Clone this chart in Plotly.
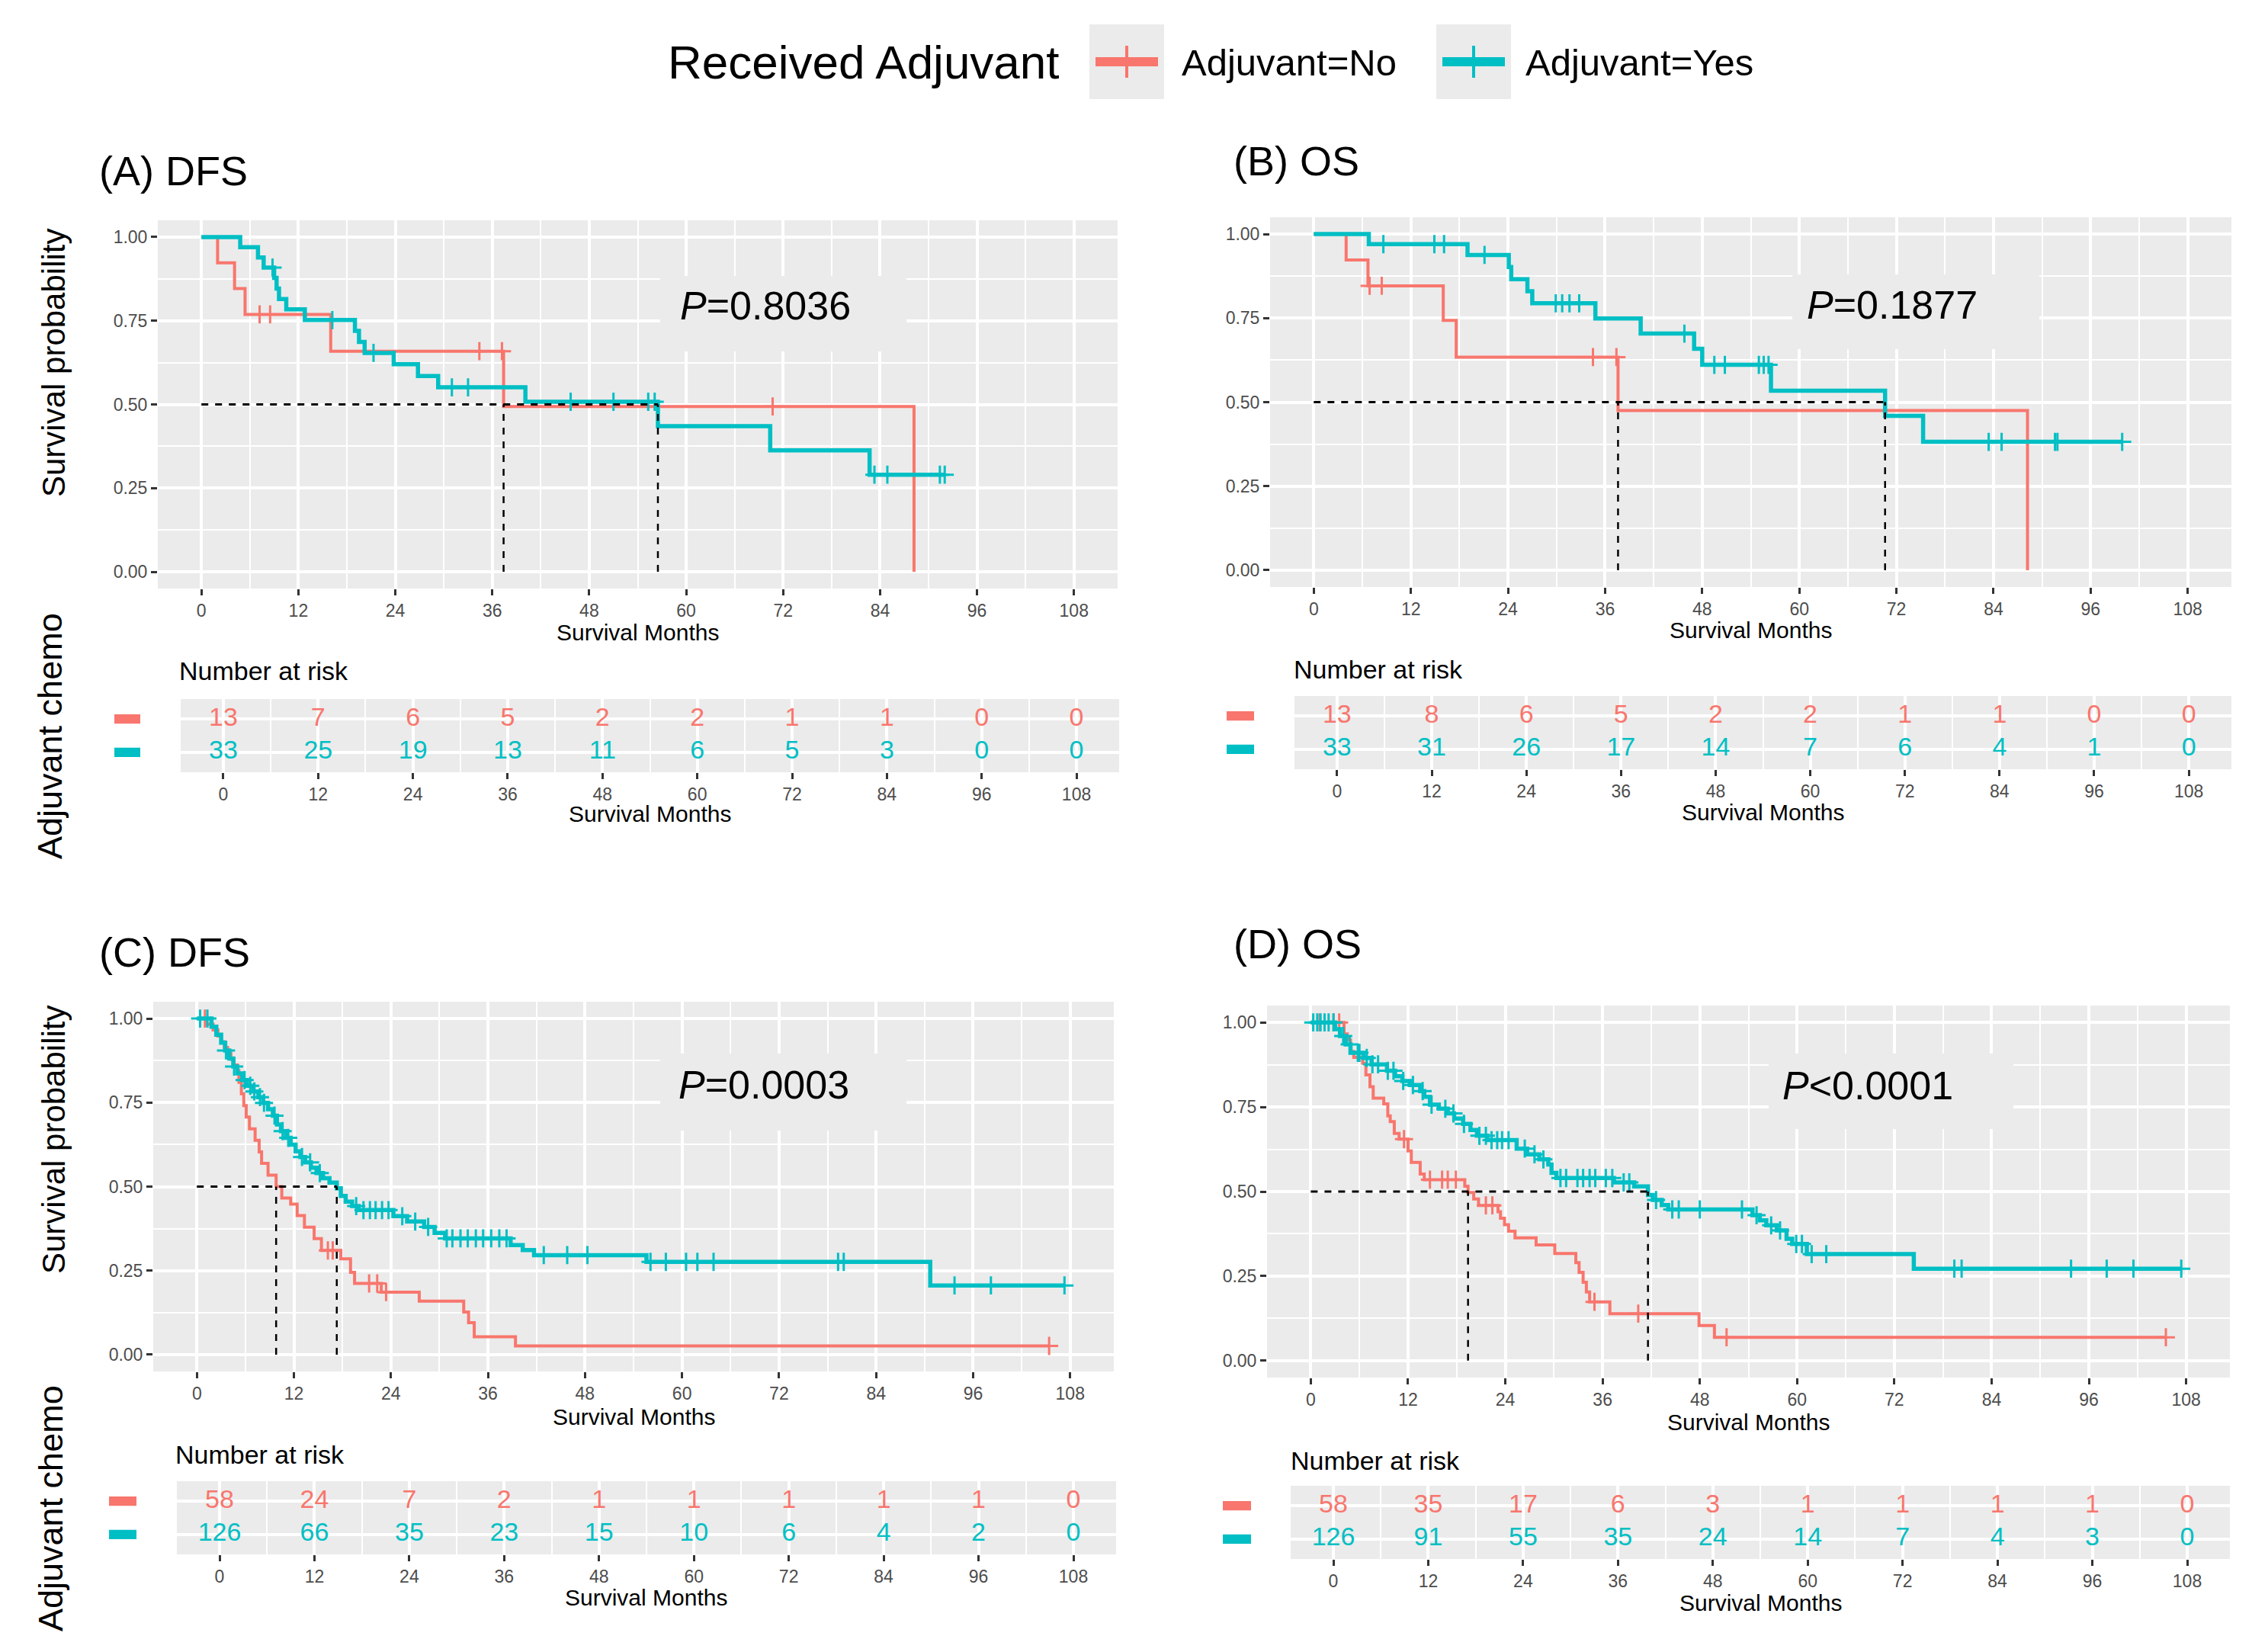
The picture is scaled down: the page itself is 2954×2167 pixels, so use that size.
import numpy as np
import plotly.graph_objects as go

W, H = 2954, 2167
RED = "#F8766D"
TEAL = "#00BFC4"
FONT = "Liberation Sans, Arial, Helvetica, sans-serif"

# ---- data (months, survival probability) ----
risk_times = [0, 12, 24, 36, 48, 60, 72, 84, 96, 108]

# (A) DFS
A_no_t = [0, 2.0, 4.1, 5.4, 16.0, 37.4, 88.2]
A_no_s = [1, 0.923, 0.846, 0.769, 0.659, 0.494, 0.0]
A_no_end = 88.2
A_no_cens = [7.2, 8.5, 34.4, 37.2, 70.7]
A_yes_t = [0, 4.8, 7.0, 7.7, 9.0, 9.3, 9.6, 10.5, 12.8, 19.0, 19.5, 20.2, 23.8, 26.8, 29.3, 40.1, 56.5, 70.4, 82.7]
A_yes_s = [1, 0.970, 0.939, 0.909, 0.878, 0.846, 0.815, 0.784, 0.752, 0.720, 0.687, 0.654, 0.620, 0.585, 0.551, 0.508, 0.435, 0.363, 0.290]
A_yes_end = 92.0
A_yes_cens = [8.8, 16.2, 21.3, 31.0, 33.0, 45.7, 51.0, 55.3, 56.1, 83.3, 84.9, 91.4, 92.0]
A_no_risk = [13, 7, 6, 5, 2, 2, 1, 1, 0, 0]
A_yes_risk = [33, 25, 19, 13, 11, 6, 5, 3, 0, 0]

# (B) OS
B_no_t = [0, 4.0, 6.7, 16.0, 17.6, 37.6, 88.2]
B_no_s = [1, 0.923, 0.846, 0.743, 0.634, 0.475, 0.0]
B_no_end = 88.2
B_no_cens = [6.9, 8.4, 34.5, 37.4]
B_yes_t = [0, 6.8, 19.0, 24.1, 24.4, 26.4, 27.0, 34.8, 40.4, 47.0, 48.0, 56.5, 70.6, 75.3]
B_yes_s = [1, 0.970, 0.938, 0.902, 0.866, 0.830, 0.794, 0.749, 0.704, 0.659, 0.611, 0.534, 0.459, 0.382]
B_yes_end = 100.0
B_yes_cens = [8.6, 14.9, 16.1, 21.1, 29.9, 30.7, 31.6, 32.8, 45.8, 49.5, 50.8, 55.0, 55.6, 56.2,
              83.4, 85.0, 91.6, 91.9, 99.9]
B_no_risk = [13, 8, 6, 5, 2, 2, 1, 1, 0, 0]
B_yes_risk = [33, 31, 26, 17, 14, 7, 6, 4, 1, 0]

# (C) DFS
C_no_t = [0, 1.2, 2.0, 2.6, 3.0, 3.4, 3.8, 4.2, 4.6, 5.0, 5.2, 5.5, 5.8, 6.1, 6.5, 7.2, 7.7, 8.0, 8.8, 9.8,
          10.5, 11.6, 12.4, 13.3, 14.5, 15.4, 17.8, 19.0, 19.5, 22.8, 27.5, 33.0, 33.6, 34.3, 39.4]
C_no_s = [1, 0.983, 0.966, 0.948, 0.931, 0.914, 0.897, 0.879, 0.862, 0.845, 0.810, 0.776, 0.741, 0.707, 0.672,
          0.638, 0.603, 0.569, 0.534, 0.500, 0.466, 0.448, 0.414, 0.379, 0.345, 0.310, 0.285, 0.245, 0.212,
          0.186, 0.159, 0.127, 0.095, 0.053, 0.026]
C_no_end = 105.4
C_no_cens = [1.0, 16.2, 16.8, 21.3, 22.3, 23.4, 105.4]
C_yes_t = [0, 1.8, 2.4, 3.0, 3.5, 4.0, 4.5, 5.0, 5.6, 6.2, 7.0, 7.6, 8.2, 8.8, 9.4, 9.9, 10.4, 11.0, 11.6,
           12.2, 12.8, 13.4, 14.1, 14.8, 15.6, 16.4, 17.3, 17.8, 18.4, 19.2, 20.0, 24.3, 26.0, 28.1, 29.4,
           30.7, 38.8, 40.3, 41.7, 55.6, 90.7]
C_yes_s = [1, 0.976, 0.952, 0.928, 0.905, 0.881, 0.857, 0.837, 0.817, 0.800, 0.783, 0.766, 0.749, 0.730,
           0.711, 0.685, 0.665, 0.645, 0.625, 0.605, 0.588, 0.572, 0.556, 0.540, 0.525, 0.512, 0.495, 0.472,
           0.455, 0.442, 0.430, 0.412, 0.396, 0.380, 0.362, 0.346, 0.326, 0.311, 0.296, 0.276, 0.206]
C_yes_end = 107.3
C_yes_cens = [0.4, 1.3, 3.6, 4.6, 5.9, 6.6, 7.1, 7.8, 8.3, 9.6, 10.6, 11.3, 13.0, 14.0, 15.2, 19.7, 20.6,
              21.4, 22.1, 22.9, 23.7, 25.4, 27.0, 28.6, 30.9, 31.6, 32.6, 33.5, 34.5, 35.4, 36.4, 37.4,
              38.3, 42.9, 45.8, 48.3, 56.1, 58.0, 60.5, 61.9, 63.9, 79.3, 80.0, 93.7, 98.2, 107.3]
C_no_risk = [58, 24, 7, 2, 1, 1, 1, 1, 1, 0]
C_yes_risk = [126, 66, 35, 23, 15, 10, 6, 4, 2, 0]

# (D) OS
D_no_t = [0, 4.1, 4.5, 4.9, 5.3, 6.4, 6.8, 7.3, 7.7, 9.0, 9.5, 9.8, 10.3, 10.9, 12.0, 12.4, 13.5, 14.0,
          19.0, 19.4, 20.1, 20.7, 23.1, 23.4, 23.9, 24.4, 25.2, 27.8, 30.1, 32.7, 33.1, 33.6, 34.0, 34.4,
          36.9, 47.9, 49.8]
D_no_s = [1, 0.966, 0.948, 0.914, 0.897, 0.879, 0.845, 0.810, 0.776, 0.759, 0.724, 0.707, 0.672, 0.655,
          0.620, 0.586, 0.552, 0.535, 0.516, 0.497, 0.478, 0.459, 0.440, 0.421, 0.402, 0.383, 0.363, 0.342,
          0.317, 0.290, 0.261, 0.232, 0.203, 0.174, 0.139, 0.104, 0.069]
D_no_end = 105.5
D_no_cens = [1.1, 2.8, 3.5, 11.5, 14.7, 16.2, 16.9, 17.9, 21.6, 22.4, 35.0, 40.4, 51.3, 105.5]
D_yes_t = [0, 3.0, 3.6, 4.3, 4.9, 6.5, 7.5, 9.4, 10.4, 11.3, 12.2, 13.5, 14.0, 14.7, 15.8, 16.9, 17.7,
           18.8, 19.7, 20.5, 21.8, 25.4, 26.7, 28.2, 29.3, 29.7, 30.3, 37.4, 39.9, 41.6, 42.2, 43.3, 44.1,
           54.5, 55.4, 56.2, 57.5, 58.7, 59.4, 61.2, 74.4]
D_yes_s = [1, 0.980, 0.960, 0.935, 0.910, 0.895, 0.876, 0.857, 0.841, 0.827, 0.815, 0.797, 0.780, 0.757,
           0.745, 0.731, 0.716, 0.700, 0.682, 0.665, 0.652, 0.627, 0.610, 0.595, 0.580, 0.555, 0.540, 0.527,
           0.515, 0.490, 0.475, 0.460, 0.447, 0.430, 0.415, 0.400, 0.385, 0.360, 0.345, 0.315, 0.272]
D_yes_end = 107.4
D_yes_cens = [0.3, 0.8, 1.2, 1.7, 2.2, 2.8, 4.0, 4.8, 5.8, 6.0, 6.9, 7.6, 8.3, 9.5, 10.2, 11.4, 12.6, 13.8,
              14.9, 16.6, 17.6, 18.9, 20.8, 21.6, 22.3, 23.0, 23.6, 24.4, 26.4, 27.6, 28.7, 30.8, 31.5,
              32.9, 33.6, 34.4, 35.1, 36.4, 37.2, 38.6, 39.3, 42.6, 44.6, 45.4, 48.0, 53.2, 55.0, 56.8,
              57.9, 59.9, 60.6, 61.8, 63.6, 79.4, 80.3, 93.8, 98.2, 101.5, 107.4]
D_no_risk = [58, 35, 17, 6, 3, 1, 1, 1, 1, 0]
D_yes_risk = [126, 91, 55, 35, 24, 14, 7, 4, 3, 0]

p_labels = ["<i>P</i>=0.8036", "<i>P</i>=0.1877", "<i>P</i>=0.0003", "<i>P</i><0.0001"]
titles = ["(A) DFS", "(B) OS", "(C) DFS", "(D) OS"]


def px(x):
    return x / W


def py(y):
    return 1 - y / H


panels = [
    dict(title=titles[0], no=(A_no_t, A_no_s, A_no_end, A_no_cens), yes=(A_yes_t, A_yes_s, A_yes_end, A_yes_cens),
         risk=(A_no_risk, A_yes_risk), plot=(207, 1466, 289, 772), tab=(237, 1468, 917, 1013),
         title_xy=(128, 224), p_box=(866, 1189, 362, 461), p_c=(1004, 401), xlab_y=829, tab_xlab_y=1068,
         nar_xy=(233, 880), sq_x=(150, 184)),
    dict(title=titles[1], no=(B_no_t, B_no_s, B_no_end, B_no_cens), yes=(B_yes_t, B_yes_s, B_yes_end, B_yes_cens),
         risk=(B_no_risk, B_yes_risk), plot=(1666, 2927, 285, 770), tab=(1698, 2927, 913, 1009),
         title_xy=(1616, 211), p_box=(2351, 2675, 360, 458), p_c=(2482, 400), xlab_y=827, tab_xlab_y=1065,
         nar_xy=(1695, 878), sq_x=(1609, 1645)),
    dict(title=titles[2], no=(C_no_t, C_no_s, C_no_end, C_no_cens), yes=(C_yes_t, C_yes_s, C_yes_end, C_yes_cens),
         risk=(C_no_risk, C_yes_risk), plot=(201, 1461, 1314, 1799), tab=(232, 1464, 1943, 2039),
         title_xy=(128, 1249), p_box=(866, 1189, 1382, 1483), p_c=(1002, 1423), xlab_y=1858, tab_xlab_y=2095,
         nar_xy=(228, 1908), sq_x=(143, 179)),
    dict(title=titles[3], no=(D_no_t, D_no_s, D_no_end, D_no_cens), yes=(D_yes_t, D_yes_s, D_yes_end, D_yes_cens),
         risk=(D_no_risk, D_yes_risk), plot=(1662, 2925, 1319, 1807), tab=(1693, 2925, 1949, 2045),
         title_xy=(1616, 1238), p_box=(2320, 2641, 1382, 1481), p_c=(2450, 1424), xlab_y=1866, tab_xlab_y=2102,
         nar_xy=(1691, 1916), sq_x=(1604, 1641)),
]

fig = go.Figure()
shapes = []
annotations = []
layout = {}

tick_font = dict(family=FONT, size=23, color="#4D4D4D")
xr = [-5.4, 113.4]
yr = [-0.05, 1.05]


def step_xy(t, s, end):
    x = list(t)
    y = list(s)
    if end > x[-1]:
        x.append(end)
        y.append(y[-1])
    return x, y


def surv_at(t, s, times):
    idx = np.searchsorted(np.array(t), np.array(times), side="right") - 1
    return np.array(s)[idx]


def median_time(t, s):
    for ti, si in zip(t, s):
        if si <= 0.5:
            return ti
    return None


def text_ann(x, y, text, size, xanchor="left", angle=0):
    return dict(xref="paper", yref="paper", x=px(x), y=py(y), xanchor=xanchor, yanchor="middle",
                text=text, showarrow=False, textangle=angle,
                font=dict(family=FONT, size=size, color="black"))


for i, p in enumerate(panels):
    k = i + 1
    kr = i + 5
    xa, ya = ("x" if k == 1 else f"x{k}"), ("y" if k == 1 else f"y{k}")
    xra, yra = f"x{kr}", f"y{kr}"
    x0, x1, y0, y1 = p["plot"]
    layout["xaxis" if k == 1 else f"xaxis{k}"] = dict(
        domain=[px(x0), px(x1)], anchor=ya, range=xr, tick0=0, dtick=12,
        showgrid=True, gridcolor="white", gridwidth=3.5, zeroline=False,
        minor=dict(dtick=6, tick0=0, showgrid=True, gridcolor="white", gridwidth=1.8),
        ticks="outside", ticklen=8, tickwidth=3, tickcolor="#333333", tickfont=tick_font)
    layout["yaxis" if k == 1 else f"yaxis{k}"] = dict(
        domain=[py(y1), py(y0)], anchor=xa, range=yr,
        tickvals=[0, 0.25, 0.5, 0.75, 1.0], ticktext=["0.00", "0.25", "0.50", "0.75", "1.00"],
        showgrid=True, gridcolor="white", gridwidth=3.5, zeroline=False,
        minor=dict(dtick=0.125, tick0=0, showgrid=True, gridcolor="white", gridwidth=1.8),
        ticks="outside", ticklen=8, tickwidth=3, tickcolor="#333333", tickfont=tick_font)

    tx0, tx1, ty0, ty1 = p["tab"]
    layout[f"xaxis{kr}"] = dict(
        domain=[px(tx0), px(tx1)], anchor=yra, range=xr, tick0=0, dtick=12,
        showgrid=True, gridcolor="white", gridwidth=3.5, zeroline=False,
        minor=dict(dtick=6, tick0=0, showgrid=True, gridcolor="white", gridwidth=1.8),
        ticks="outside", ticklen=8, tickwidth=3, tickcolor="#333333", tickfont=tick_font)
    layout[f"yaxis{kr}"] = dict(
        domain=[py(ty1), py(ty0)], anchor=xra, range=[0.4, 2.6], tickvals=[1, 2],
        showticklabels=False, ticks="", showgrid=True, gridcolor="white", gridwidth=3.5, zeroline=False)

    # grey label box behind the P value: hides the grid, stays under the curves
    bx0, bx1, by0, by1 = p["p_box"]
    lx0 = xr[0] + (bx0 - x0) / (x1 - x0) * (xr[1] - xr[0])
    lx1 = xr[0] + (bx1 - x0) / (x1 - x0) * (xr[1] - xr[0])
    ly0 = yr[0] + (y1 - by1) / (y1 - y0) * (yr[1] - yr[0])
    ly1 = yr[0] + (y1 - by0) / (y1 - y0) * (yr[1] - yr[0])
    fig.add_trace(go.Scatter(x=[lx0, lx1, lx1, lx0, lx0], y=[ly0, ly0, ly1, ly1, ly0], xaxis=xa, yaxis=ya,
                             mode="lines", fill="toself", fillcolor="#EBEBEB", line=dict(width=0),
                             showlegend=False, hoverinfo="skip"))

    # KM curves: No first, Yes on top
    for grp, color, lw in ((p["no"], RED, 4), (p["yes"], TEAL, 5.5)):
        t, s, end, cens = grp
        sx, sy = step_xy(t, s, end)
        fig.add_trace(go.Scatter(x=sx, y=sy, xaxis=xa, yaxis=ya, mode="lines", line_shape="hv",
                                 line=dict(color=color, width=lw), showlegend=False, hoverinfo="skip"))
        fig.add_trace(go.Scatter(x=cens, y=surv_at(t, s, cens), xaxis=xa, yaxis=ya, mode="markers",
                                 marker=dict(symbol="cross-thin", size=17, line=dict(color=color, width=3)),
                                 showlegend=False, hoverinfo="skip"))

    # median lines
    m_no = median_time(p["no"][0], p["no"][1])
    m_yes = median_time(p["yes"][0], p["yes"][1])
    meds = [m for m in (m_no, m_yes) if m is not None]
    fig.add_trace(go.Scatter(x=[0, max(meds)], y=[0.5, 0.5], xaxis=xa, yaxis=ya, mode="lines",
                             line=dict(color="black", width=3, dash="dash"), showlegend=False, hoverinfo="skip"))
    for m in meds:
        fig.add_trace(go.Scatter(x=[m, m], y=[0, 0.5], xaxis=xa, yaxis=ya, mode="lines",
                                 line=dict(color="black", width=2.5, dash="dash"), showlegend=False,
                                 hoverinfo="skip"))

    # risk table numbers
    no_risk, yes_risk = p["risk"]
    for vals, yrow, color in ((no_risk, 2, RED), (yes_risk, 1, TEAL)):
        fig.add_trace(go.Scatter(x=risk_times, y=[yrow] * len(risk_times), xaxis=xra, yaxis=yra,
                                 mode="text", text=[str(v) for v in vals],
                                 textfont=dict(family=FONT, size=34, color=color),
                                 showlegend=False, hoverinfo="skip"))
        sx0, sx1 = p["sq_x"]
        shapes.append(dict(type="rect", xref="paper", yref=yra, x0=px(sx0), x1=px(sx1),
                           y0=yrow - 0.14, y1=yrow + 0.14, fillcolor=color, line=dict(width=0)))

    annotations.append(text_ann(p["p_c"][0], p["p_c"][1], p_labels[i], 52, xanchor="center"))
    annotations.append(text_ann(p["title_xy"][0], p["title_xy"][1], p["title"], 54))
    annotations.append(text_ann((x0 + x1) / 2, p["xlab_y"], "Survival Months", 30, xanchor="center"))
    annotations.append(text_ann((tx0 + tx1) / 2, p["tab_xlab_y"], "Survival Months", 30, xanchor="center"))
    annotations.append(text_ann(p["nar_xy"][0], p["nar_xy"][1], "Number at risk", 34))

# left-side axis titles
for yc in (476, 1495):
    annotations.append(text_ann(70, yc, "Survival probability", 42, xanchor="center", angle=-90))
for yc in (966, 1979):
    annotations.append(text_ann(66, yc, "Adjuvant chemo", 45, xanchor="center", angle=-90))

# top legend
annotations.append(text_ann(874, 82, "Received Adjuvant", 62))
legend_items = [("Adjuvant=No", RED, 1429, 1548), ("Adjuvant=Yes", TEAL, 1884, 1999)]
for label, color, kx, lx in legend_items:
    shapes.append(dict(type="rect", xref="paper", yref="paper", x0=px(kx), x1=px(kx + 98),
                       y0=py(130), y1=py(32), fillcolor="#EBEBEB", line=dict(width=0)))
    shapes.append(dict(type="line", xref="paper", yref="paper", x0=px(kx + 8), x1=px(kx + 90),
                       y0=py(81), y1=py(81), line=dict(color=color, width=12)))
    shapes.append(dict(type="line", xref="paper", yref="paper", x0=px(kx + 49), x1=px(kx + 49),
                       y0=py(60), y1=py(102), line=dict(color=color, width=4)))
    annotations.append(text_ann(lx, 82, label, 49))

fig.update_layout(
    width=W, height=H, margin=dict(l=0, r=0, t=0, b=0),
    paper_bgcolor="white", plot_bgcolor="#EBEBEB", showlegend=False,
    font=dict(family=FONT), shapes=shapes, annotations=annotations, **layout)

fig.write_html("out.html", config={"displayModeBar": False},
               post_script="document.body.style.margin='0';")
